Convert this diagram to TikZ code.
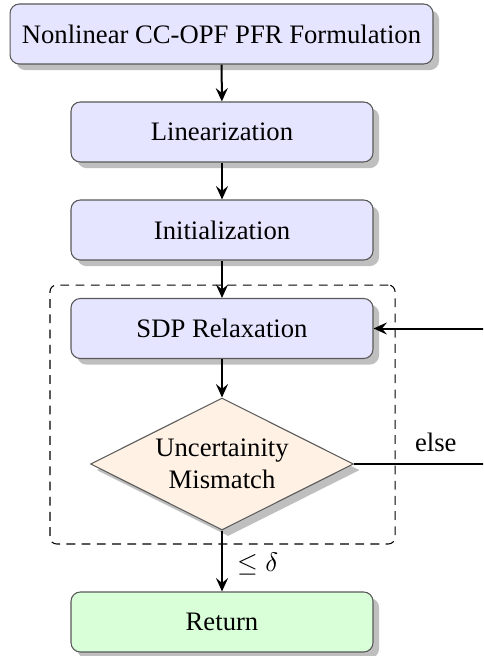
\documentclass[tikz,border=0pt]{standalone}
\usepackage{fontspec}
\setmainfont{Liberation Serif}
\usetikzlibrary{shapes.geometric,shadows,arrows.meta}
\begin{document}
\begin{tikzpicture}[x=0.375pt,y=-0.375pt,
  every node/.style={font=\fontsize{10pt}{12pt}\selectfont},
  procbox/.style={draw=black!65, line width=0.4pt, rounded corners=3.5pt,
    fill=blue!10, minimum width=113.25pt, minimum height=22.5pt,
    inner sep=0pt, drop shadow, align=center},
  decbox/.style={draw=black!65, line width=0.4pt, diamond, aspect=2,
    fill=orange!10, minimum width=98.6pt, minimum height=49.5pt,
    inner sep=0pt, drop shadow, align=center},
  endbox/.style={procbox, fill=green!15},
  flow/.style={line width=0.75pt, -{Stealth[length=5pt,width=4.5pt,inset=1.8pt]}},
  plainline/.style={line width=0.75pt},
  groupbox/.style={draw=black, line width=0.4pt, dash pattern=on 3.3pt off 2.4pt, rounded corners=2.5pt}
]
\clip (0,0) rectangle (483,656);
\useasboundingbox (0,0) rectangle (483,656);

\node[groupbox, minimum width=129.4pt, minimum height=97.1pt, inner sep=0pt] (grp) at (222.5,414.5) {};

\node[procbox, minimum width=158.6pt] (form) at (221.5,34) {Nonlinear CC-OPF PFR Formulation};
\node[procbox] (lin) at (222,132) {Linearization};
\node[procbox] (init) at (222,230) {Initialization};
\node[procbox] (sdp) at (222,328.5) {SDP Relaxation};
\node[decbox] (dec) at (222,464) {Uncertainity\\Mismatch};
\node[endbox] (ret) at (222,622) {Return};

\coordinate (loopc) at (500,464);

\draw[flow] (form) -- (lin);
\draw[flow] (lin) -- (init);
\draw[flow] (init) -- (sdp);
\draw[flow] (sdp) -- (dec);
\draw[flow] (dec) -- node[right, xshift=2pt, yshift=-1pt] (le) {$\leq\delta$} (ret);
\draw[flow] (dec.east) -- node[pos=0.56, above, yshift=1pt] (els) {else} (loopc) |- (sdp.east);
\end{tikzpicture}
\end{document}
